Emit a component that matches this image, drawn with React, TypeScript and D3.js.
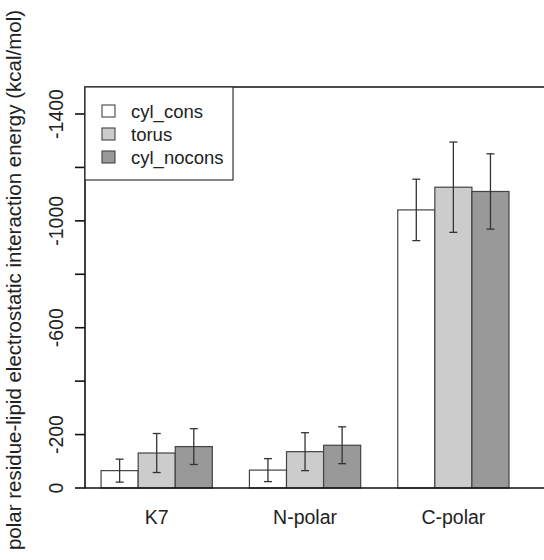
import React, { useEffect, useRef } from 'react'
import * as d3 from 'd3'

// regions on the x axis, series in the legend
const groups = ['K7', 'N-polar', 'C-polar']
const series = ['cyl_cons', 'torus', 'cyl_nocons']
const fills = ['#ffffff', '#cccccc', '#999999']

// mean interaction energy (sign dropped, axis is labelled negative)
const cylCons = [65, 67, 1041]
const torus = [131, 136, 1126]
const cylNocons = [155, 160, 1110]
// half width of error bar
const cylConsErr = [43, 43, 115]
const torusErr = [73, 71, 169]
const cylNoconsErr = [67, 69, 141]

const yTicks = [0, 200, 400, 600, 800, 1000, 1200, 1400]
const yTickLabels = ['0', '-200', '', '-600', '', '-1000', '', '-1400']

const yTitle = 'polar residue-lipid electrostatic interaction energy (kcal/mol)'

function App() {
  const ref = useRef<SVGSVGElement>(null)

  useEffect(() => {
    const svg = d3.select(ref.current)
    svg.selectAll('*').remove()

    const W = 544
    const H = 560
    const font = 'Liberation Sans, Arial, Helvetica, sans-serif'
    const textCol = '#222'

    const frameLeft = 85
    const frameTop = 87
    const frameBottom = 488

    const y = d3.scaleLinear().domain([0, 1400]).range([frameBottom, 114])
    // R barplot style units: each bar is 1 unit, 1 unit gap before each group
    const x = d3.scaleLinear().domain([0, 12]).range([64, 509])

    const means = [cylCons, torus, cylNocons]
    const errs = [cylConsErr, torusErr, cylNoconsErr]

    const bars: { g: number; s: number; v: number; e: number }[] = []
    groups.forEach((_, g) => {
      series.forEach((_, s) => {
        bars.push({ g, s, v: means[s][g], e: errs[s][g] })
      })
    })
    const x0 = (d: { g: number; s: number }) => x(1 + d.g * 4 + d.s)
    const bw = x(1) - x(0)

    // bars
    svg.append('g')
      .selectAll('rect')
      .data(bars)
      .enter()
      .append('rect')
      .attr('x', d => x0(d))
      .attr('y', d => y(d.v))
      .attr('width', bw)
      .attr('height', d => y(0) - y(d.v))
      .attr('fill', d => fills[d.s])
      .attr('stroke', '#444')
      .attr('stroke-width', 1.2)

    // error bars
    const eb = svg.append('g')
      .attr('stroke', '#333')
      .attr('stroke-width', 1.3)
    bars.forEach(d => {
      const cx = x0(d) + bw / 2
      eb.append('line')
        .attr('x1', cx).attr('x2', cx)
        .attr('y1', y(d.v + d.e)).attr('y2', y(d.v - d.e))
      eb.append('line')
        .attr('x1', cx - 4).attr('x2', cx + 4)
        .attr('y1', y(d.v + d.e)).attr('y2', y(d.v + d.e))
      eb.append('line')
        .attr('x1', cx - 4).attr('x2', cx + 4)
        .attr('y1', y(d.v - d.e)).attr('y2', y(d.v - d.e))
    })

    // frame
    svg.append('path')
      .attr('d', `M${W + 10},${frameTop}H${frameLeft}V${frameBottom}H${W + 10}`)
      .attr('fill', 'none')
      .attr('stroke', '#111')
      .attr('stroke-width', 1.6)

    // y axis
    const ya = svg.append('g')
    ya.selectAll('line')
      .data(yTicks)
      .enter()
      .append('line')
      .attr('x1', frameLeft - 10)
      .attr('x2', frameLeft)
      .attr('y1', d => y(d))
      .attr('y2', d => y(d))
      .attr('stroke', '#111')
      .attr('stroke-width', 1.6)
    ya.selectAll('text')
      .data(yTicks)
      .enter()
      .append('text')
      .attr('transform', d => `translate(63,${y(d)}) rotate(-90)`)
      .attr('text-anchor', 'middle')
      .style('font-family', font)
      .style('font-size', '19.5px')
      .attr('fill', textCol)
      .text((_, i) => yTickLabels[i])

    // x labels
    svg.append('g')
      .selectAll('text')
      .data(groups)
      .enter()
      .append('text')
      .attr('x', (_, g) => (x(1 + g * 4) + x(4 + g * 4)) / 2)
      .attr('y', 524)
      .attr('text-anchor', 'middle')
      .style('font-family', font)
      .style('font-size', '19.5px')
      .attr('fill', textCol)
      .text(d => d)

    // y title
    svg.append('text')
      .attr('transform', `translate(21,280) rotate(-90)`)
      .attr('text-anchor', 'middle')
      .style('font-family', font)
      .style('font-size', '20.5px')
      .attr('fill', textCol)
      .text(yTitle)

    // legend
    const lg = svg.append('g')
    lg.append('rect')
      .attr('x', frameLeft)
      .attr('y', frameTop)
      .attr('width', 233 - frameLeft)
      .attr('height', 180 - frameTop)
      .attr('fill', '#fff')
      .attr('stroke', '#333')
      .attr('stroke-width', 1.2)
    series.forEach((s, i) => {
      const cy = 111 + i * 23
      lg.append('rect')
        .attr('x', 102)
        .attr('y', cy - 6)
        .attr('width', 13)
        .attr('height', 12)
        .attr('fill', fills[i])
        .attr('stroke', '#444')
        .attr('stroke-width', 1.1)
      lg.append('text')
        .attr('x', 131)
        .attr('y', cy + 6.5)
        .style('font-family', font)
        .style('font-size', '18.5px')
        .attr('fill', textCol)
        .text(s)
    })

    svg.attr('width', W).attr('height', H)
  }, [])

  return (
    <div style={{ position: 'absolute', left: 0, top: 0 }}>
      <svg ref={ref} width={544} height={560} style={{ display: 'block', background: '#fff' }}></svg>
    </div>
  )
}

export default App
